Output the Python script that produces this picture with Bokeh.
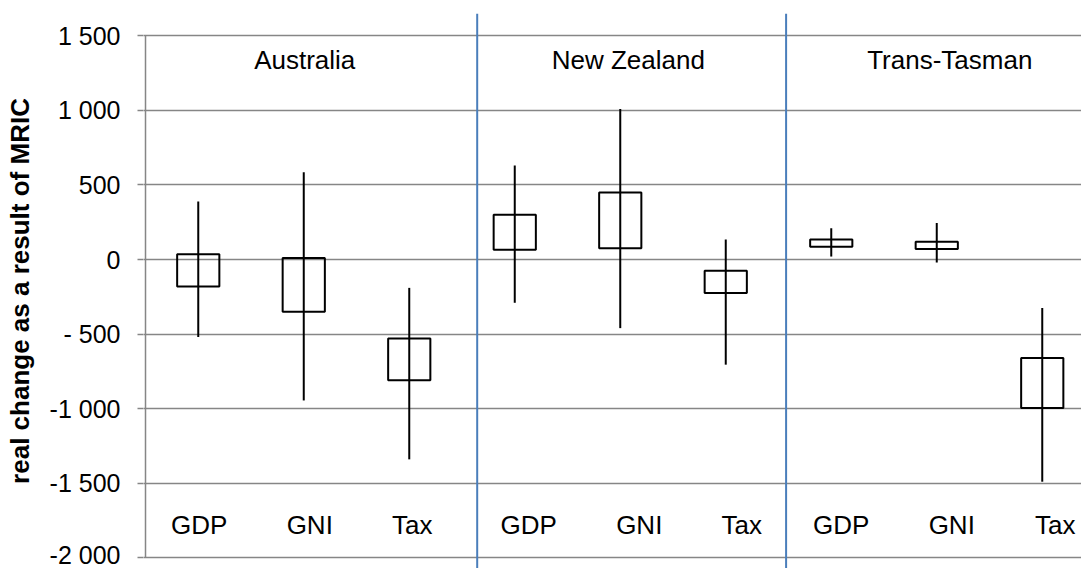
from bokeh.plotting import figure
from bokeh.models import FixedTicker, Span, ColumnDataSource, Range1d
from bokeh.core.properties import value
from bokeh.embed import file_html
from bokeh.resources import INLINE

# ---- data ----
groups = ["Australia", "New Zealand", "Trans-Tasman"]
measures = ["GDP", "GNI", "Tax"]
high = [390, 585, -190, 630, 1010, 135, 210, 245, -325]
box_top = [35, 10, -530, 300, 450, -75, 135, 120, -660]
box_bottom = [-180, -350, -810, 65, 75, -225, 85, 70, -995]
low = [-520, -945, -1340, -290, -460, -705, 20, -20, -1490]
y_ticks = [-2000, -1500, -1000, -500, 0, 500, 1000, 1500]
y_tick_labels = ["-2 000", "-1 500", "-1 000", "- 500", "0", "500", "1 000", "1 500"]
y_title = "real change as a result of MRIC"

# ---- layout / style ----
FONT = "Liberation Sans"
GRID = "#868686"
BLUE = "#4A7EBB"
n = len(high)
xs = list(range(n))
cat_labels = [m for _ in groups for m in measures]
cat_label_dx = [1, 6, 3, 14, 19, 16, 10, 15, 13]      # pixel nudges of text boxes
group_x = [1, 4, 7]
group_label_dx = [1, 8, 13]
separators = [2.644, 5.572]

src = ColumnDataSource(dict(
    x=xs, high=high, top=box_top, bottom=box_bottom, low=low,
    left=[x - 0.2 for x in xs], right=[x + 0.2 for x in xs],
))

p = figure(width=1081, height=568,
           x_range=Range1d(-0.519, 8.372), y_range=Range1d(-2072, 1650),
           x_axis_type=None, output_backend="svg", toolbar_location=None,
           min_border_left=143, min_border_right=0, min_border_top=13,
           min_border_bottom=0)
p.outline_line_color = None
p.background_fill_color = "white"
p.border_fill_color = "white"

ticker = FixedTicker(ticks=y_ticks)
p.yaxis.ticker = ticker
p.ygrid.ticker = ticker
p.ygrid.grid_line_color = GRID
p.ygrid.grid_line_width = 1.5
p.yaxis.axis_line_color = None
p.yaxis.major_tick_line_color = GRID
p.yaxis.major_tick_line_width = 1.5
p.yaxis.major_tick_out = 6
p.yaxis.major_tick_in = 0
p.yaxis.minor_tick_line_color = None
p.yaxis.major_label_overrides = {t: l for t, l in zip(y_ticks, y_tick_labels)}
p.yaxis.major_label_text_font = FONT
p.yaxis.major_label_text_font_size = "25px"
p.yaxis.major_label_text_color = "black"
p.yaxis.major_label_standoff = 17
p.yaxis.axis_label = y_title
p.yaxis.axis_label_text_font = FONT
p.yaxis.axis_label_text_font_size = "26px"
p.yaxis.axis_label_text_font_style = "bold"
p.yaxis.axis_label_text_color = "black"
p.yaxis.axis_label_standoff = 12

# axis line (from -2000 to 1500 only)
p.segment(x0=[-0.5], y0=[y_ticks[0]], x1=[-0.5], y1=[y_ticks[-1]],
          line_color=GRID, line_width=1.5)

for s in separators:
    p.add_layout(Span(location=s, dimension="height", line_color=BLUE, line_width=2))

p.segment(x0="x", y0="high", x1="x", y1="low", source=src,
          line_color="black", line_width=2)
p.quad(left="left", right="right", top="top", bottom="bottom", source=src,
       fill_color=None, line_color="black", line_width=2)

lab_src = ColumnDataSource(dict(x=xs, y=[-1777] * n, text=cat_labels, dx=cat_label_dx))
p.text(x="x", y="y", text="text", x_offset="dx", source=lab_src,
       text_align="center", text_baseline="middle",
       text_font=value(FONT), text_font_size="26px", text_color="black")

grp_src = ColumnDataSource(dict(x=group_x, y=[1338] * len(groups), text=groups, dx=group_label_dx))
p.text(x="x", y="y", text="text", x_offset="dx", source=grp_src,
       text_align="center", text_baseline="middle",
       text_font=value(FONT), text_font_size="26px", text_color="black")

open("out.html", "w").write(file_html(p, INLINE))
